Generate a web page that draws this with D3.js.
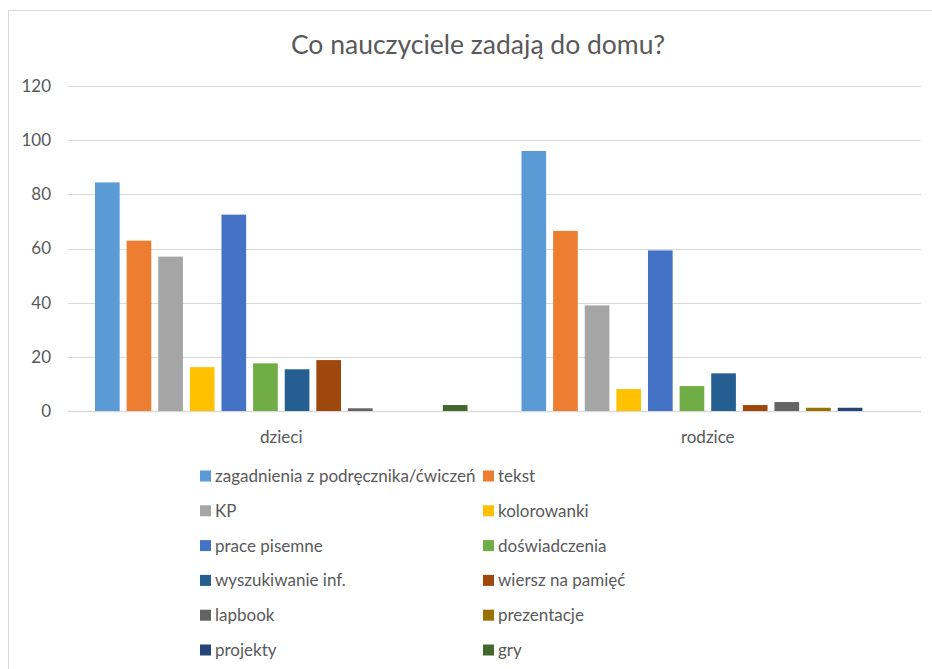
<!DOCTYPE html>
<html>
<head>
<meta charset="utf-8">
<script src="https://cdn.jsdelivr.net/npm/d3@7"></script>
<style>
  html, body { margin: 0; padding: 0; background: #fff; }
  svg { display: block; font-family: Lato, "Open Sans", sans-serif; }
</style>
</head>
<body>
<div id="chart"></div>
<script>
// chart data
const groups = ["dzieci", "rodzice"];
const series = [
  "zagadnienia z podręcznika/ćwiczeń", "tekst", "KP", "kolorowanki",
  "prace pisemne", "doświadczenia", "wyszukiwanie inf.", "wiersz na pamięć",
  "lapbook", "prezentacje", "projekty", "gry"
];
const dzieciValues  = [84.4, 62.9, 57.0, 16.2, 72.5, 17.6, 15.4, 18.8, 1.0, 0, 0, 2.2];
const rodziceValues = [96.0, 66.5, 39.0, 8.1, 59.3, 9.2, 13.9, 2.2, 3.3, 1.2, 1.2, 0];
const yTicks = [0, 20, 40, 60, 80, 100, 120];
const colors = ["#5B9BD5", "#ED7D31", "#A5A5A5", "#FFC000", "#4472C4", "#70AD47",
                "#255E91", "#9E480E", "#636363", "#997300", "#264478", "#43682B"];

const W = 932, H = 669;
const plot = {left: 68, right: 921, top: 86, bottom: 411};

const svg = d3.select("#chart").append("svg")
  .attr("width", W)
  .attr("height", H);

// outer frame
svg.append("rect")
  .attr("x", 8.5).attr("y", 10.5)
  .attr("width", 930).attr("height", 700)
  .attr("fill", "#fff")
  .attr("stroke", "#d9d9d9")
  .attr("stroke-width", 1);

svg.append("text")
  .attr("x", 478).attr("y", 54)
  .attr("text-anchor", "middle")
  .style("font-size", "26.5px")
  .style("fill", "#595959")
  .text("Co nauczyciele zadają do domu?");

const y = d3.scaleLinear().domain([0, 120]).range([plot.bottom, plot.top]);
const x0 = d3.scaleBand().domain(groups).range([plot.left, plot.right]);
const gpad = 27;
const x1 = d3.scaleBand().domain(series)
  .range([gpad, x0.bandwidth() - gpad])
  .paddingInner(0.22).paddingOuter(0);
const color = d3.scaleOrdinal().domain(series).range(colors);

// gridlines
svg.append("g")
  .selectAll("line")
  .data(yTicks)
  .join("line")
  .attr("x1", plot.left).attr("x2", plot.right)
  .attr("y1", d => Math.round(y(d)) + 0.5)
  .attr("y2", d => Math.round(y(d)) + 0.5)
  .attr("stroke", "#d9d9d9")
  .attr("stroke-width", d => d === 0 ? 1.5 : 1);

// y labels
svg.append("g")
  .selectAll("text")
  .data(yTicks)
  .join("text")
  .attr("x", 51)
  .attr("y", d => y(d))
  .attr("dy", "0.35em")
  .attr("text-anchor", "end")
  .style("font-size", "17px")
  .style("fill", "#595959")
  .text(d => d);

// bars
const rows = groups.map((g, i) => ({
  group: g,
  values: (i === 0 ? dzieciValues : rodziceValues).map((v, j) => ({ key: series[j], value: v }))
}));

const gg = svg.append("g").selectAll("g")
  .data(rows)
  .join("g")
  .attr("transform", d => `translate(${x0(d.group)},0)`);

gg.selectAll("rect")
  .data(d => d.values.filter(v => v.value > 0))
  .join("rect")
  .attr("x", d => x1(d.key))
  .attr("width", x1.bandwidth())
  .attr("y", d => y(d.value))
  .attr("height", d => y(0) - y(d.value))
  .attr("fill", d => color(d.key));

// category labels
svg.append("g")
  .selectAll("text")
  .data(groups)
  .join("text")
  .attr("x", d => x0(d) + x0.bandwidth() / 2)
  .attr("y", 437)
  .attr("dy", "0.35em")
  .attr("text-anchor", "middle")
  .style("font-size", "17px")
  .style("fill", "#595959")
  .text(d => d);

// legend
const legCols = [200, 483];
const legY0 = 476, legStep = 34.8;
const leg = svg.append("g").selectAll("g")
  .data(series)
  .join("g")
  .attr("transform", (d, i) => `translate(${legCols[i % 2]},${legY0 + Math.floor(i / 2) * legStep})`);

leg.append("rect")
  .attr("x", 0).attr("y", -5.5)
  .attr("width", 11).attr("height", 11)
  .attr("fill", d => color(d));

leg.append("text")
  .attr("x", 15)
  .attr("y", 0)
  .attr("dy", "0.35em")
  .style("font-size", "17px")
  .style("fill", "#595959")
  .text(d => d);
</script>
</body>
</html>
